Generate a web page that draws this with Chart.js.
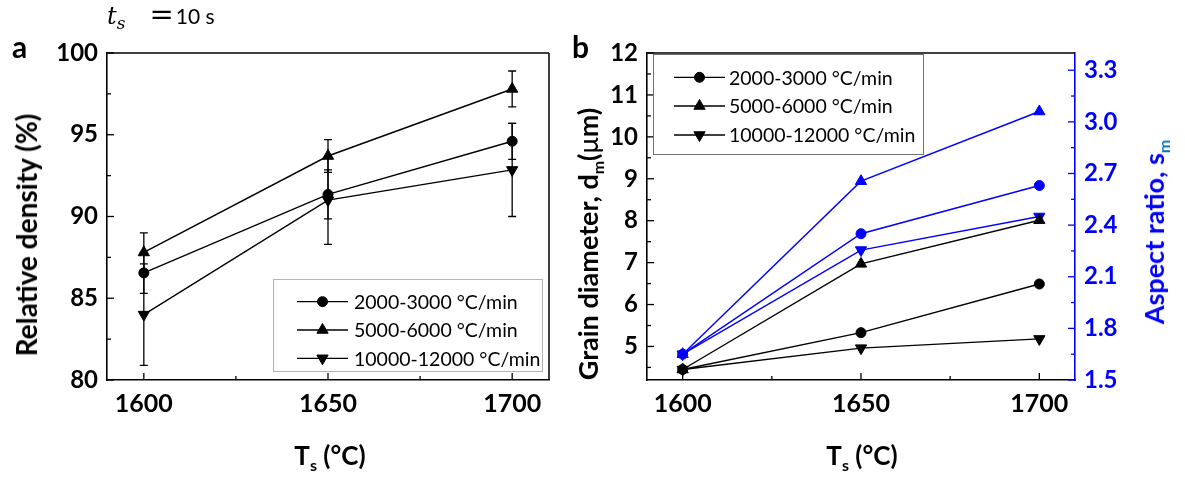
<!DOCTYPE html>
<html>
<head>
<meta charset="utf-8">
<script src="https://cdn.jsdelivr.net/npm/chart.js@4.4.1/dist/chart.umd.min.js"></script>
<style>
  body { margin: 0; background: #fff; width: 1185px; height: 481px; position: relative; overflow: hidden; font-family: Lato, sans-serif; }
  canvas { position: absolute; top: 0; }
  .t { position: absolute; white-space: nowrap; font-weight: bold; color: #000; line-height: 1; }
  .rot { transform: translate(-50%, -50%) rotate(-90deg); }
  .sub { font-size: 16px; vertical-align: -6px; line-height: 1; }
</style>
</head>
<body>
<canvas id="chartA" width="570" height="481" style="left:0"></canvas>
<canvas id="chartB" width="615" height="481" style="left:570px"></canvas>

<div style="position:absolute;left:107px;top:0;height:28px;line-height:28px;font:21px/28px Lato,sans-serif;white-space:nowrap"><span style="font:italic 24px/1 'DejaVu Serif',serif">t</span><span style="font:italic 17px/1 'DejaVu Serif',serif;vertical-align:-5px">s</span><span style="font:29px/1 'DejaVu Serif',serif;margin-left:24px">=</span><span style="margin-left:2px">10 s</span></div>
<div class="t" style="left:12px;top:31px;font-size:30px;line-height:30px">a</div>
<div class="t" style="left:572px;top:31px;font-size:30px;line-height:30px">b</div>

<div class="t rot" style="left:26px;top:235px;font-size:28px">Relative density (%)</div>
<div class="t rot" style="left:590px;top:244px;font-size:27px">Grain diameter, d<span class="sub">m</span>(<span style="font-weight:normal">μ</span>m)</div>
<div class="t rot" style="left:1156px;top:232px;font-size:27px;color:#0000ff">Aspect ratio, s<span class="sub" style="color:#0070c0">m</span></div>

<div class="t" style="left:230px;top:442px;width:200px;text-align:center;font-size:26px;line-height:26px">T<span class="sub">s</span> (°C)</div>
<div class="t" style="left:762px;top:442px;width:200px;text-align:center;font-size:26px;line-height:26px">T<span class="sub">s</span> (°C)</div>

<script>
// sintering temperature (°C) and heating rates
const TEMPS = [1600, 1650, 1700];
const X_TICKS = [1600, 1650, 1700];
const RATES = ['2000-3000 °C/min', '5000-6000 °C/min', '10000-12000 °C/min'];

// panel a: relative density (%) with error bars
const DENSITY_LOW = [86.55, 91.35, 94.6];
const DENSITY_MID = [87.8, 93.7, 97.8];
const DENSITY_HIGH = [84.0, 91.0, 92.85];
const DENSITY_LOW_ERR = [1.25, 1.5, 1.1];
const DENSITY_MID_ERR = [1.2, 1.0, 1.1];
const DENSITY_HIGH_ERR = [3.1, 2.7, 2.85];
const DENSITY_TICKS = [80, 85, 90, 95, 100];

// panel b: grain diameter (um) and aspect ratio
const GRAIN_LOW = [4.45, 5.33, 6.49];
const GRAIN_MID = [4.45, 6.97, 8.01];
const GRAIN_HIGH = [4.45, 4.96, 5.18];
const ASPECT_LOW = [1.65, 2.35, 2.63];
const ASPECT_MID = [1.65, 2.655, 3.06];
const ASPECT_HIGH = [1.65, 2.255, 2.45];
const GRAIN_TICKS = [5, 6, 7, 8, 9, 10, 11, 12];
const ASPECT_TICKS = [1.5, 1.8, 2.1, 2.4, 2.7, 3.0, 3.3];

const BLUE = '#0000ff';
const MARKERS = [
  { pointStyle: 'circle', rotation: 0, radius: 5 },
  { pointStyle: 'triangle', rotation: 0, radius: 6.5 },
  { pointStyle: 'triangle', rotation: 180, radius: 6.5 }
];

function pts(vals) {
  return TEMPS.map((t, i) => ({ x: t, y: vals[i] }));
}
function mids(arr) {
  let out = [];
  for (let i = 0; i < arr.length - 1; i++) out.push((arr[i] + arr[i + 1]) / 2);
  return out;
}
function series(label, vals, m, color, axis, errors) {
  return {
    label: label,
    data: pts(vals),
    yAxisID: axis,
    errors: errors,
    borderColor: color,
    backgroundColor: color,
    borderWidth: 1.4,
    pointStyle: MARKERS[m].pointStyle,
    pointRotation: MARKERS[m].rotation,
    pointRadius: MARKERS[m].radius,
    pointHoverRadius: MARKERS[m].radius,
    pointBorderWidth: 1,
    tension: 0,
    clip: false
  };
}

// inward ticks, frame, error bars and the boxed legend
const extras = {
  id: 'extras',
  beforeDatasetsDraw(chart) {
    const ctx = chart.ctx;
    chart.data.datasets.forEach((ds, i) => {
      if (!ds.errors) return;
      const meta = chart.getDatasetMeta(i);
      const sc = chart.scales[ds.yAxisID];
      ctx.save();
      ctx.strokeStyle = ds.borderColor;
      ctx.lineWidth = 1.3;
      meta.data.forEach((el, j) => {
        const v = ds.data[j].y, e = ds.errors[j];
        const y1 = sc.getPixelForValue(v + e), y2 = sc.getPixelForValue(v - e);
        ctx.beginPath();
        ctx.moveTo(el.x, y1); ctx.lineTo(el.x, y2);
        ctx.moveTo(el.x - 4, y1); ctx.lineTo(el.x + 4, y1);
        ctx.moveTo(el.x - 4, y2); ctx.lineTo(el.x + 4, y2);
        ctx.stroke();
      });
      ctx.restore();
    });
  },
  afterDraw(chart, args, opts) {
    const ctx = chart.ctx, a = chart.chartArea;
    ctx.save();
    ctx.lineWidth = 1.5;
    ctx.strokeStyle = '#000';
    ctx.beginPath();
    ctx.moveTo(a.left, a.top); ctx.lineTo(a.right, a.top);
    if (opts.rightFrame) { ctx.moveTo(a.right, a.top); ctx.lineTo(a.right, a.bottom); }
    ctx.stroke();
    // ticks pointing into the plot
    (opts.ticks || []).forEach(t => {
      const sc = chart.scales[t.axis];
      ctx.strokeStyle = t.color || '#000';
      ctx.lineWidth = 1.3;
      const draw = (v, len) => {
        const p = sc.getPixelForValue(v);
        ctx.beginPath();
        if (t.side === 'bottom') { ctx.moveTo(p, a.bottom); ctx.lineTo(p, a.bottom - len); }
        else if (t.side === 'left') { ctx.moveTo(a.left, p); ctx.lineTo(a.left + len, p); }
        else { ctx.moveTo(a.right, p); ctx.lineTo(a.right - len, p); }
        ctx.stroke();
      };
      t.major.forEach(v => draw(v, 7));
      t.minor.forEach(v => draw(v, 4));
    });
    // legend box inside the plot
    const lg = opts.legend;
    if (lg) {
      ctx.strokeStyle = lg.border;
      ctx.lineWidth = 1;
      ctx.strokeRect(lg.box[0], lg.box[1], lg.box[2] - lg.box[0], lg.box[3] - lg.box[1]);
      ctx.font = '19.5px Lato';
      ctx.textBaseline = 'middle';
      lg.rows.forEach((y, i) => {
        const ds = chart.data.datasets[i];
        ctx.strokeStyle = '#000';
        ctx.fillStyle = '#000';
        ctx.lineWidth = 1.3;
        ctx.beginPath();
        ctx.moveTo(lg.line[0], y); ctx.lineTo(lg.line[1], y);
        ctx.stroke();
        ctx.lineWidth = 1;
        Chart.helpers.drawPoint(ctx, {
          pointStyle: ds.pointStyle, rotation: ds.pointRotation,
          radius: ds.pointRadius, borderWidth: 1
        }, (lg.line[0] + lg.line[1]) / 2, y);
        ctx.fillStyle = '#000';
        ctx.fillText(ds.label, lg.text, y + 1);
      });
    }
    ctx.restore();
  }
};

const tickFont = { family: 'Lato', size: 24, weight: 'bold' };
const xTickFont = { family: 'Lato', size: 25, weight: 'bold' };

function xAxis() {
  return {
    type: 'linear', min: 1590, max: 1710,
    afterBuildTicks: s => { s.ticks = X_TICKS.map(v => ({ value: v })); },
    afterFit: s => { s.height = 101; },
    grid: { display: false, drawTicks: false },
    border: { color: '#000', width: 1.6 },
    ticks: { font: xTickFont, color: '#000', padding: 9, maxRotation: 0, autoSkip: false, callback: v => String(v) }
  };
}

new Chart(document.getElementById('chartA'), {
  type: 'line',
  data: {
    datasets: [
      series(RATES[0], DENSITY_LOW, 0, '#000', 'y', DENSITY_LOW_ERR),
      series(RATES[1], DENSITY_MID, 1, '#000', 'y', DENSITY_MID_ERR),
      series(RATES[2], DENSITY_HIGH, 2, '#000', 'y', DENSITY_HIGH_ERR)
    ]
  },
  options: {
    responsive: false,
    animation: false,
    events: [],
    layout: { padding: { top: 53, right: 21, left: 0, bottom: 0 } },
    plugins: {
      legend: { display: false },
      tooltip: { enabled: false },
      extras: {
        rightFrame: true,
        ticks: [
          { axis: 'x', side: 'bottom', major: X_TICKS, minor: mids(X_TICKS) },
          { axis: 'y', side: 'left', major: DENSITY_TICKS, minor: mids(DENSITY_TICKS) }
        ],
        legend: {
          border: '#b4b4b4',
          box: [273.5, 279.5, 542.5, 371.5],
          line: [297, 348],
          text: 354,
          rows: [301.7, 330, 358.3]
        }
      }
    },
    scales: {
      x: xAxis(),
      y: {
        min: 80, max: 100,
        afterBuildTicks: s => { s.ticks = DENSITY_TICKS.map(v => ({ value: v })); },
        afterFit: s => { s.width = 107; },
        grid: { display: false, drawTicks: false },
        border: { color: '#000', width: 1.6 },
        ticks: { font: tickFont, color: '#000', padding: 9 }
      }
    }
  },
  plugins: [extras]
});

new Chart(document.getElementById('chartB'), {
  type: 'line',
  data: {
    datasets: [
      series(RATES[0], GRAIN_LOW, 0, '#000', 'y'),
      series(RATES[1], GRAIN_MID, 1, '#000', 'y'),
      series(RATES[2], GRAIN_HIGH, 2, '#000', 'y'),
      series(RATES[0], ASPECT_LOW, 0, BLUE, 'y1'),
      series(RATES[1], ASPECT_MID, 1, BLUE, 'y1'),
      series(RATES[2], ASPECT_HIGH, 2, BLUE, 'y1')
    ]
  },
  options: {
    responsive: false,
    animation: false,
    events: [],
    layout: { padding: { top: 53, right: 50, left: 0, bottom: 0 } },
    plugins: {
      legend: { display: false },
      tooltip: { enabled: false },
      extras: {
        rightFrame: false,
        ticks: [
          { axis: 'x', side: 'bottom', major: X_TICKS, minor: mids(X_TICKS) },
          { axis: 'y', side: 'left', major: GRAIN_TICKS, minor: [4.5].concat(mids(GRAIN_TICKS)) },
          { axis: 'y1', side: 'right', color: BLUE, major: ASPECT_TICKS, minor: mids(ASPECT_TICKS) }
        ],
        legend: {
          border: '#707070',
          box: [83.5, 54.5, 353.5, 154.5],
          line: [104, 155],
          text: 159,
          rows: [77.3, 106, 135]
        }
      }
    },
    scales: {
      x: xAxis(),
      y: {
        position: 'left',
        min: 4.2, max: 12,
        afterBuildTicks: s => { s.ticks = GRAIN_TICKS.map(v => ({ value: v })); },
        afterFit: s => { s.width = 77; },
        grid: { display: false, drawTicks: false },
        border: { color: '#000', width: 1.6 },
        ticks: { font: tickFont, color: '#000', padding: 9 }
      },
      y1: {
        position: 'right',
        min: 1.5, max: 3.4,
        afterBuildTicks: s => { s.ticks = ASPECT_TICKS.map(v => ({ value: v })); },
        afterFit: s => { s.width = 60; },
        grid: { display: false, drawTicks: false },
        border: { color: BLUE, width: 1.6 },
        ticks: { font: tickFont, color: BLUE, padding: 9, callback: v => v.toFixed(1) }
      }
    }
  },
  plugins: [extras]
});
</script>
</body>
</html>
